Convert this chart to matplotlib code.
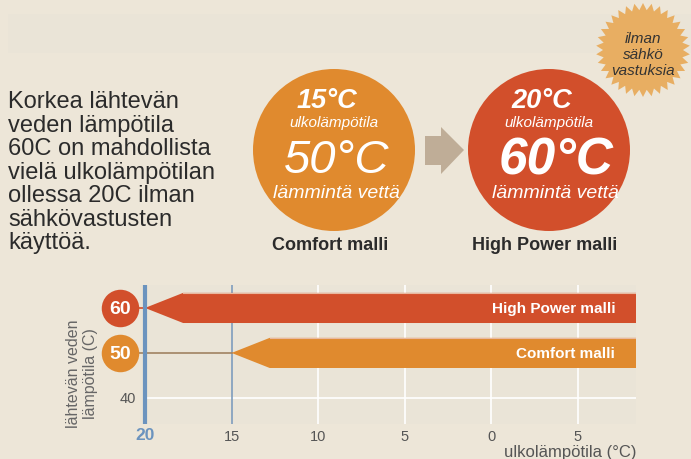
import numpy as np
import matplotlib.pyplot as plt
from matplotlib.patches import Circle, Polygon, Rectangle
import matplotlib.transforms as mtransforms

plt.rcParams['font.family'] = ['Liberation Sans', 'DejaVu Sans']

# data
models = ['Comfort malli', 'High Power malli']
outdoor_temp = [15, 20]          # lowest outdoor temperature for the water temp
water_temp = [50, 60]            # leaving water temperature
bar_body_start = [12.8, 17.8]    # where the arrow head widens to full bar
model_colors = ['#E08A2E', '#D24F2B']
x_ticks = [15, 10, 5, 0, -5]
x_tick_labels = ['15', '10', '5', '0', '5']
y_ticks = [40]
intro_text = ("Korkea lähtevän\nveden lämpötila\n60C on mahdollista\n"
              "vielä ulkolämpötilan\nollessa 20C ilman\nsähkövastusten\nkäyttöä.")
badge_text = "ilman\nsähkö\nvastuksia"

bg = '#EDE6D8'
panel = '#EAE4D7'
W, H = 691, 459
fig = plt.figure(figsize=(W / 100, H / 100), dpi=100, facecolor=bg)

# overlay in pixel coordinates for the infographic part
top = fig.add_axes([0, 0, 1, 1], zorder=0)
top.set_xlim(0, W)
top.set_ylim(H, 0)
top.axis('off')
top.patch.set_alpha(0)

top.add_patch(Rectangle((8, 14), W, 39, color=panel, lw=0, zorder=0))

# starburst
n = 34
ang = np.linspace(0, 2 * np.pi, 2 * n, endpoint=False) + np.pi / 2
rad = np.where(np.arange(2 * n) % 2 == 0, 47, 40)
cx, cy = 643, 50
top.add_patch(Polygon(np.c_[cx + rad * np.cos(ang), cy - rad * np.sin(ang)],
                      closed=True, color='#E8AE62', lw=0, zorder=1))
top.text(cx, 55, badge_text, ha='center', va='center', fontsize=11,
         style='italic', color='#333333', linespacing=1.15, zorder=2)

# big circles
centers = [(334, 150), (549, 150)]
big_size = [34, 37]
for i, (px, py) in enumerate(centers):
    top.add_patch(Circle((px, py), 81, color=model_colors[i], lw=0, zorder=1))
    top.text(px - 7, 101, f'{outdoor_temp[i]}°C', ha='center', va='center',
             fontsize=19.5, weight='bold', style='italic', color='white', zorder=3)
    top.text(px, 123, 'ulkolämpötila', ha='center', va='center',
             fontsize=11, style='italic', color='white', zorder=3)
    top.text(px + 3 + 4 * i, 161, f'{water_temp[i]}°C', ha='center', va='center',
             fontsize=big_size[i], weight='bold' if i == 1 else 'normal',
             style='italic', color='white', zorder=3)
    top.text(px + 2 + 4 * i, 193, 'lämmintä vettä', ha='center', va='center',
             fontsize=14, style='italic', color='white', zorder=3)
    top.text(px - 4, 245, models[i], ha='center', va='center', fontsize=13,
             weight='bold', color='#2B2B2B', zorder=3)

# arrow between circles
top.add_patch(Polygon([(425, 136), (441, 136), (441, 127), (464, 150),
                       (441, 174), (441, 165), (425, 165)],
                      closed=True, color='#BFAD97', lw=0, zorder=1))

top.text(8, 91, intro_text, ha='left', va='top', fontsize=17,
         color='#2B2B2B', linespacing=1.09)

# chart
ax = fig.add_axes([140 / W, (H - 424) / H, 496 / W, 139 / H], zorder=1)
ax.set_facecolor(panel)
xl = (20.29, -8.35)
ax.set_xlim(*xl)
ax.set_ylim(34.2, 65.1)
for s in ax.spines.values():
    s.set_visible(False)

for x in x_ticks[1:]:
    ax.axvline(x, color='white', lw=1.2, zorder=1)
ax.axhline(40, xmin=(xl[0] - 20) / (xl[0] - xl[1]), color='white', lw=1.2, zorder=1)
ax.axvline(15, color='#7F9DBD', lw=1.2, zorder=2)
ax.axvline(20, color='#6B93BE', lw=3, zorder=5)

half = 3.35
for i in range(len(models)):
    t, b, lv = outdoor_temp[i], bar_body_start[i], water_temp[i]
    ax.fill([t, b, xl[1], xl[1], b], [lv, lv + half, lv + half, lv - half, lv - half],
            color=model_colors[i], lw=0, zorder=3)
    ax.plot([b, xl[1]], [lv + half, lv + half], color='#E8B9A0', lw=0.8, zorder=3)
    ax.text(-7.15, lv, models[i], ha='right', va='center_baseline', fontsize=11,
            weight='bold', color='white', zorder=4)

# badges for levels, left of the axis
bt = mtransforms.blended_transform_factory(ax.transAxes, ax.transData)
bx = -20 / 496
line_cols = ['#A08262', '#D24F2B']
for i in range(len(models)):
    lv = water_temp[i]
    ax.plot([bx, (xl[0] - outdoor_temp[i]) / (xl[0] - xl[1])], [lv, lv],
            transform=bt, color=line_cols[i], lw=1.2, clip_on=False, zorder=2)
    ax.plot([bx], [lv], 'o', ms=27, mew=0, color=model_colors[i], transform=bt,
            clip_on=False, zorder=6)
    ax.text(bx, lv, str(lv), transform=bt, ha='center', va='center_baseline',
            fontsize=14, weight='bold', color='white', zorder=7)

ax.set_xticks(x_ticks, x_tick_labels)
ax.set_yticks(y_ticks, [str(v) for v in y_ticks])
ax.tick_params(length=0, labelsize=10.5, labelcolor='#555555', pad=4)
ax.tick_params(axis='y', pad=3)
ax.text(20, -0.085, '20', transform=mtransforms.blended_transform_factory(ax.transData, ax.transAxes),
        ha='center', va='center', fontsize=12.5, weight='bold', color='#6B93BE')
ax.text(1.0, -0.205, 'ulkolämpötila (°C)', transform=ax.transAxes, ha='right',
        va='center', fontsize=12, color='#555555')
ax.text(-0.117, 0.36, 'lähtevän veden\nlämpötila (C)', transform=ax.transAxes,
        rotation=90, ha='center', va='center', fontsize=11.5, color='#666666',
        linespacing=1.1)

fig.savefig('out.png', dpi=100, facecolor=bg)
